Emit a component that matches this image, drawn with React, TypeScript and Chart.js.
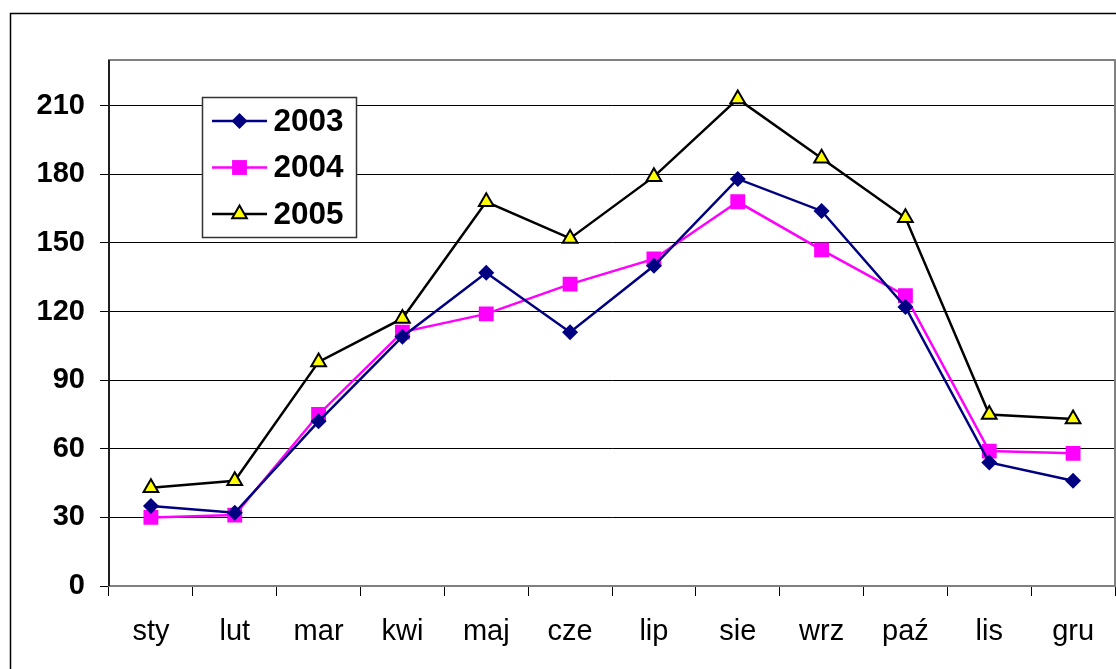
import React, { useEffect, useRef } from "react";
import { Chart, registerables } from "chart.js";

Chart.register(...registerables);

const months = ["sty", "lut", "mar", "kwi", "maj", "cze", "lip", "sie", "wrz", "paź", "lis", "gru"];
const values2003 = [35, 32, 72, 109, 137, 111, 140, 178, 164, 122, 54, 46];
const values2004 = [30, 31, 75, 111, 119, 132, 143, 168, 147, 127, 59, 58];
const values2005 = [43, 46, 98, 117, 168, 152, 179, 213, 187, 161, 75, 73];
const yTicks = [0, 30, 60, 90, 120, 150, 180, 210];
const seriesNames = ["2003", "2004", "2005"];

const FONT = "'Liberation Sans', Arial, sans-serif";

function drawMarker(ctx: CanvasRenderingContext2D, style: string, x: number, y: number, r: number, fill: string, stroke: string, lw: number) {
  ctx.save();
  ctx.beginPath();
  if (style === "rectRot") {
    ctx.moveTo(x, y - r);
    ctx.lineTo(x + r, y);
    ctx.lineTo(x, y + r);
    ctx.lineTo(x - r, y);
    ctx.closePath();
  } else if (style === "rect") {
    const s = Math.SQRT1_2 * r;
    ctx.rect(x - s, y - s, 2 * s, 2 * s);
  } else {
    const a = (2 * Math.PI) / 3;
    ctx.moveTo(x, y - r);
    ctx.lineTo(x + Math.sin(a) * r, y - Math.cos(a) * r);
    ctx.lineTo(x + Math.sin(2 * a) * r, y - Math.cos(2 * a) * r);
    ctx.closePath();
  }
  ctx.fillStyle = fill;
  ctx.fill();
  if (lw > 0) {
    ctx.strokeStyle = stroke;
    ctx.lineWidth = lw;
    ctx.stroke();
  }
  ctx.restore();
}

const framePlugin = {
  id: "frame",
  beforeDraw(chart: any) {
    const ctx = chart.ctx;
    ctx.save();
    ctx.fillStyle = "#fff";
    ctx.fillRect(0, 0, chart.width, chart.height);
    ctx.strokeStyle = "#000";
    ctx.lineWidth = 1.5;
    ctx.strokeRect(10.5, 13.5, 3000, 3000);
    ctx.restore();
  },
  beforeDatasetsDraw(chart: any) {
    const { ctx, chartArea } = chart;
    ctx.save();
    ctx.strokeStyle = "#808080";
    ctx.lineWidth = 2;
    ctx.strokeRect(chartArea.left, chartArea.top, chartArea.right - chartArea.left, chartArea.bottom - chartArea.top);
    ctx.strokeStyle = "#000";
    ctx.lineWidth = 1.5;
    ctx.beginPath();
    ctx.moveTo(chartArea.left, chartArea.top);
    ctx.lineTo(chartArea.left, chartArea.bottom);
    ctx.stroke();
    ctx.restore();
  },
};

const legendPlugin = {
  id: "boxLegend",
  afterDraw(chart: any) {
    const ctx = chart.ctx;
    const x0 = 202, y0 = 97, w = 154, h = 140;
    ctx.save();
    ctx.fillStyle = "#fff";
    ctx.fillRect(x0, y0, w, h);
    ctx.strokeStyle = "#333";
    ctx.lineWidth = 1.5;
    ctx.strokeRect(x0 + 0.5, y0 + 0.5, w, h);
    chart.data.datasets.forEach((ds: any, i: number) => {
      const y = y0 + 24 + i * 46.5;
      ctx.strokeStyle = ds.borderColor;
      ctx.lineWidth = ds.borderWidth;
      ctx.beginPath();
      ctx.moveTo(212, y);
      ctx.lineTo(267, y);
      ctx.stroke();
      drawMarker(ctx, ds.pointStyle, 239.5, y, ds.pointRadius, ds.pointBackgroundColor, ds.pointBorderColor, ds.pointBorderWidth);
      ctx.fillStyle = "#000";
      ctx.font = "bold 31.5px " + FONT;
      ctx.textBaseline = "middle";
      ctx.textAlign = "left";
      ctx.fillText(ds.label, 273.5, y + 1);
    });
    ctx.restore();
  },
};

export default function App() {
  const ref = useRef<HTMLCanvasElement | null>(null);
  useEffect(() => {
    document.body.style.margin = "0";
    const canvas = ref.current!;
    const chart = new Chart(canvas, {
      type: "line",
      data: {
        labels: months,
        datasets: [
          {
            label: seriesNames[0],
            data: values2003,
            borderColor: "#000080",
            borderWidth: 2.5,
            pointStyle: "rectRot",
            pointRadius: 8,
            pointBackgroundColor: "#000080",
            pointBorderColor: "#000080",
            pointBorderWidth: 0,
            tension: 0,
          },
          {
            label: seriesNames[1],
            data: values2004,
            borderColor: "#FF00FF",
            borderWidth: 2.5,
            pointStyle: "rect",
            pointRadius: 10.5,
            pointBackgroundColor: "#FF00FF",
            pointBorderColor: "#FF00FF",
            pointBorderWidth: 0,
            tension: 0,
          },
          {
            label: seriesNames[2],
            data: values2005,
            borderColor: "#000000",
            borderWidth: 2.5,
            pointStyle: "triangle",
            pointRadius: 8.5,
            pointBackgroundColor: "#FFFF00",
            pointBorderColor: "#000000",
            pointBorderWidth: 2,
            tension: 0,
          },
        ],
      },
      options: {
        responsive: false,
        devicePixelRatio: 1,
        animation: false,
        events: [],
        layout: { autoPadding: false, padding: { left: 0, top: 60, right: 1, bottom: 0 } },
        plugins: { legend: { display: false }, tooltip: { enabled: false } },
        scales: {
          x: {
            offset: true,
            grid: { display: true, drawOnChartArea: false, drawTicks: true, tickLength: 10, color: "#000", offset: true, lineWidth: 1 },
            border: { display: true, color: "#808080", width: 2 },
            ticks: { color: "#000", font: { family: FONT, size: 29 }, padding: 19, maxRotation: 0, autoSkip: false },
            afterFit(scale: any) {
              scale.height = 83;
              scale.paddingLeft = 0;
              scale.paddingRight = 0;
            },
          },
          y: {
            min: 0,
            max: 230,
            afterBuildTicks(scale: any) {
              scale.ticks = yTicks.map((v) => ({ value: v }));
            },
            grid: { color: "#000", lineWidth: 1, tickLength: 9, drawTicks: true },
            border: { display: true, color: "#000", width: 1.5 },
            ticks: { color: "#000", font: { family: FONT, size: 29, weight: "bold" }, padding: 15 },
            afterFit(scale: any) {
              scale.width = 109;
              scale.paddingTop = 0;
              scale.paddingBottom = 0;
            },
          },
        },
      },
      plugins: [framePlugin, legendPlugin],
    } as any);
    return () => chart.destroy();
  }, []);
  return (
    <div style={{ position: "fixed", left: 0, top: 0, width: 1116, height: 669 }}>
      <canvas ref={ref} width={1116} height={669} style={{ width: 1116, height: 669, display: "block" }} />
    </div>
  );
}
